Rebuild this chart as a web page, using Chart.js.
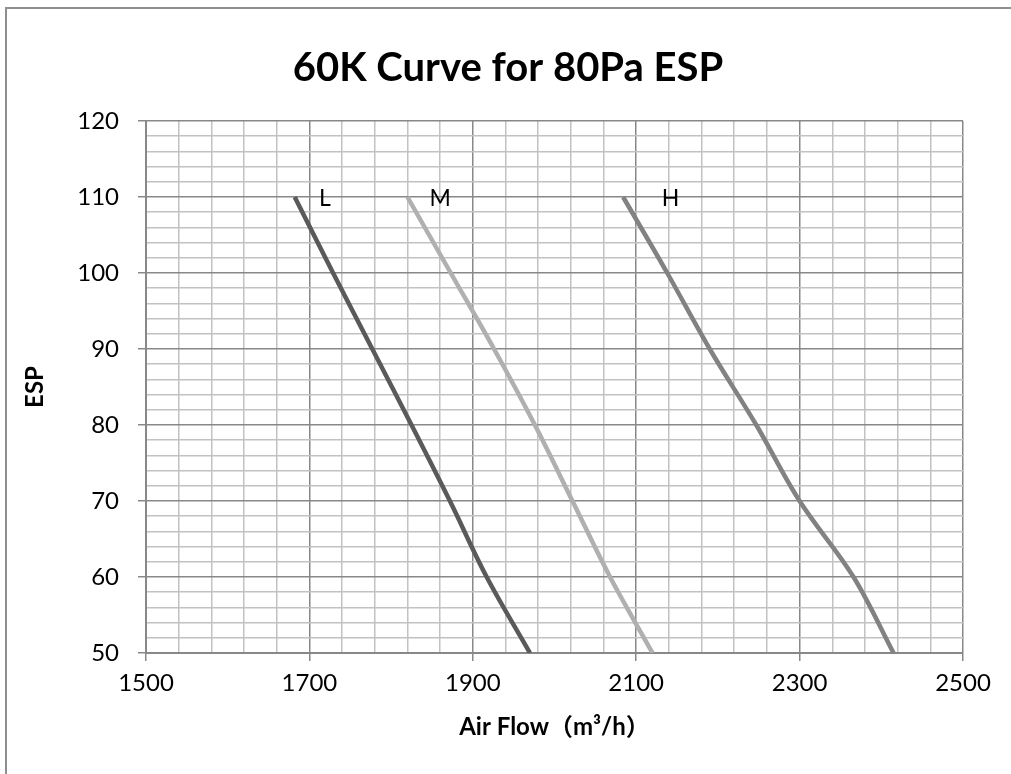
<!DOCTYPE html>
<html>
<head>
<meta charset="utf-8">
<script src="https://cdn.jsdelivr.net/npm/chart.js@4.4.1/dist/chart.umd.min.js"></script>
<style>
    html, body { margin: 0; padding: 0; background: #fff; }
    #wrap { width: 1011px; height: 774px; }
</style>
</head>
<body>
<div id="wrap"><canvas id="fanChart" width="1011" height="774"></canvas></div>
<script>
// ESP (Pa) vs air flow (m3/h) for the three fan speeds
const esp = [110, 100, 90, 80, 70, 60, 50];
const flowL = [1682, 1729, 1777, 1825, 1872, 1917, 1970];
const flowM = [1820, 1873, 1926, 1976, 2022, 2068, 2120];
const flowH = [2084, 2138, 2190, 2247, 2300, 2366, 2415];

const seriesNames = ['L', 'M', 'H'];
const nameFlow = [1719, 1860, 2142];
const nameEsp = [110, 110, 110];

const xTicks = [1500, 1700, 1900, 2100, 2300, 2500];
const yTicks = [50, 60, 70, 80, 90, 100, 110, 120];
const minorPerMajor = 5;

const chartTitle = '60K Curve for 80Pa ESP';

const MAJOR = '#888888';
const MINOR = '#c2c2c2';
const tickFont = { family: 'Lato, "Noto Sans", sans-serif', size: 24 };
const titleFont = { family: 'Lato, "Noto Sans CJK SC", sans-serif', size: 24, weight: 'bold' };

function withMinor(majors) {
    const out = [];
    for (let i = 0; i < majors.length - 1; i++) {
        const step = (majors[i + 1] - majors[i]) / minorPerMajor;
        for (let k = 0; k < minorPerMajor; k++) out.push(majors[i] + k * step);
    }
    out.push(majors[majors.length - 1]);
    return out;
}

function pts(xs) {
    return xs.map((x, i) => ({ x: x, y: esp[i] }));
}

// outer chart frame + centred title (Chart.js title would centre off the padding)
const frame = {
    id: 'frame',
    beforeDraw(chart) {
        const ctx = chart.ctx;
        ctx.save();
        ctx.fillStyle = '#fff';
        ctx.fillRect(0, 0, chart.width, chart.height);
        ctx.strokeStyle = '#8e8e8e';
        ctx.lineWidth = 2;
        ctx.beginPath();
        ctx.moveTo(6, chart.height);
        ctx.lineTo(6, 8);
        ctx.lineTo(chart.width, 8);
        ctx.stroke();
        ctx.font = 'bold 40px Lato, sans-serif';
        ctx.fillStyle = '#000';
        ctx.textAlign = 'center';
        ctx.textBaseline = 'middle';
        ctx.fillText(chartTitle, 508, 68);
        ctx.restore();
    }
};

const seriesLabels = {
    id: 'seriesLabels',
    afterDatasetsDraw(chart) {
        const ctx = chart.ctx;
        const xs = chart.scales.x, ys = chart.scales.y;
        ctx.save();
        ctx.font = '23px Lato, sans-serif';
        ctx.fillStyle = '#000';
        ctx.textAlign = 'center';
        ctx.textBaseline = 'middle';
        seriesNames.forEach((n, i) => {
            ctx.fillText(n, xs.getPixelForValue(nameFlow[i]), ys.getPixelForValue(nameEsp[i]) + 2);
        });
        ctx.restore();
    }
};

function lineSet(label, xs, color) {
    return {
        label: label,
        data: pts(xs),
        showLine: true,
        borderColor: color,
        backgroundColor: color,
        borderWidth: 4.5,
        pointRadius: 0,
        tension: 0.35,
        borderCapStyle: 'butt'
    };
}

new Chart(document.getElementById('fanChart').getContext('2d'), {
    type: 'scatter',
    data: {
        datasets: [
            lineSet('L', flowL, '#5a5a5a'),
            lineSet('M', flowM, '#b0b0b0'),
            lineSet('H', flowH, '#828282')
        ]
    },
    options: {
        responsive: false,
        animation: false,
        devicePixelRatio: 1,
        layout: { padding: { left: 0, right: 48, top: 121, bottom: 0 } },
        plugins: {
            legend: { display: false },
            tooltip: { enabled: false },
            title: { display: false }
        },
        scales: {
            x: {
                type: 'linear',
                min: xTicks[0],
                max: xTicks[xTicks.length - 1],
                afterBuildTicks: (s) => { s.ticks = withMinor(xTicks).map(v => ({ value: v })); },
                afterFit: (s) => { s.height = 121; },
                ticks: {
                    autoSkip: false,
                    maxRotation: 0,
                    color: '#000',
                    font: tickFont,
                    padding: 8,
                    callback: (v) => xTicks.includes(v) ? String(v) : ''
                },
                grid: {
                    color: (c) => xTicks.includes(c.tick && c.tick.value) ? MAJOR : MINOR,
                    tickColor: (c) => xTicks.includes(c.tick && c.tick.value) ? MAJOR : 'rgba(0,0,0,0)',
                    lineWidth: 1.5,
                    tickLength: 8
                },
                border: { color: MAJOR, width: 2 },
                title: {
                    display: true,
                    text: 'Air Flow（m³/h）',
                    color: '#000',
                    font: titleFont,
                    padding: { top: 0, bottom: 32 }
                }
            },
            y: {
                type: 'linear',
                min: yTicks[0],
                max: yTicks[yTicks.length - 1],
                afterBuildTicks: (s) => { s.ticks = withMinor(yTicks).map(v => ({ value: v })); },
                afterFit: (s) => { s.width = 146; },
                ticks: {
                    autoSkip: false,
                    color: '#000',
                    font: tickFont,
                    padding: 19,
                    callback: (v) => yTicks.includes(v) ? String(v) : ''
                },
                grid: {
                    color: (c) => yTicks.includes(c.tick && c.tick.value) ? MAJOR : MINOR,
                    tickColor: (c) => yTicks.includes(c.tick && c.tick.value) ? MAJOR : 'rgba(0,0,0,0)',
                    lineWidth: 1.5,
                    tickLength: 8
                },
                border: { color: MAJOR, width: 2 },
                title: {
                    display: true,
                    text: 'ESP',
                    color: '#000',
                    font: titleFont,
                    padding: { top: 21, bottom: 0 }
                }
            }
        }
    },
    plugins: [frame, seriesLabels]
});
</script>
</body>
</html>
